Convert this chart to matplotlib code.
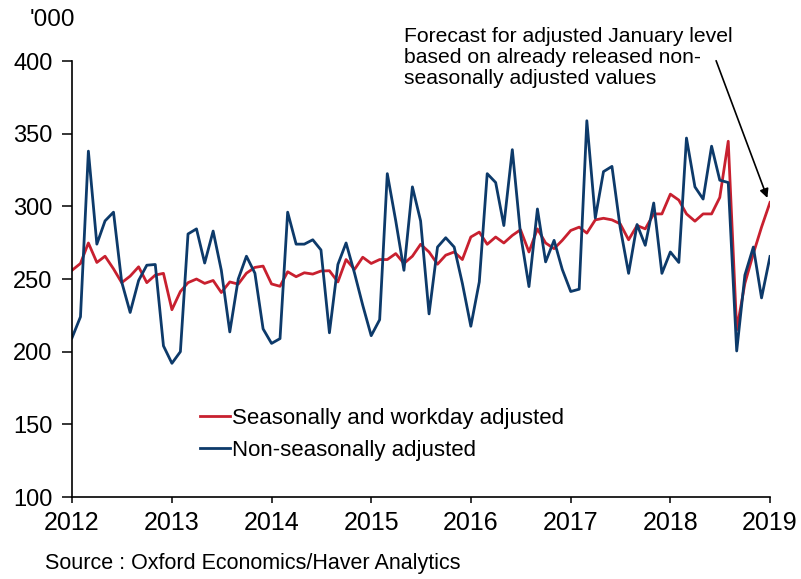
import pandas as pd
import matplotlib
matplotlib.use("Agg")
import matplotlib.pyplot as plt
import matplotlib.dates as mdates

plt.rcParams['font.family'] = ['Liberation Sans', 'DejaVu Sans']

# monthly, Jan 2012 .. Jan 2019 ('000)
months = pd.date_range("2012-01-01", periods=85, freq="MS")

adjusted = [
    256, 260.7, 274.8, 261.4, 265.7, 257, 247.5, 252, 258.4, 247.5, 252.7, 253.9,
    228.9, 241.4, 247.5, 250, 247, 249, 240.7, 248, 246.5, 254, 258, 258.9,
    246.6, 245, 255, 251.6, 254.3, 253.4, 255.5, 255.7, 248, 263.4, 256.6, 265,
    260.7, 263.4, 263.4, 267.5, 260.7, 265.7, 273.9, 268.6, 260.2, 266.4, 268.6, 263.4,
    278.9, 282.3, 273.9, 278.9, 274.8, 280, 283.9, 268.6, 284.5, 274.8, 270.9, 276.6,
    283.4, 285.7, 281.6, 290.7, 291.8, 290.7, 288, 277, 286.8, 284.5, 294.8, 294.8,
    308.4, 304.3, 294.8, 289.8, 294.8, 294.8, 306.1, 344.8, 215, 247, 267.5, 285.7,
    302.7,
]

unadjusted = [
    209.5, 224, 338, 274, 290, 296, 248, 227, 249, 259.5, 260, 204,
    192, 200, 281, 284.5, 261, 283, 256, 213.6, 250, 265.7, 254, 215.7,
    205.7, 209, 296, 274, 274, 277, 270, 213, 260, 274.8, 254, 232,
    211, 222, 322.5, 290, 256, 313.4, 290, 226, 272, 278.4, 272, 247,
    217.5, 248, 322.5, 316.4, 286.8, 339, 281, 244.8, 298.2, 261.8, 276.6, 256.6,
    241.4, 243, 358.9, 292, 323.9, 327.5, 285.7, 253.9, 287.5, 273.2, 302.3, 253.9,
    268.6, 261.4, 347, 313.4, 305, 341.4, 318, 316.4, 200.5, 252.7, 272, 237,
    265.5,
]

RED = "#c8202f"
BLUE = "#0d3a6a"

fig = plt.figure(figsize=(8.01, 5.79), dpi=100)
ax = fig.add_axes([0.0899, 0.1416, 0.8714, 0.753])

ax.plot(months, adjusted, color=RED, lw=2.0, label="Seasonally and workday adjusted")
ax.plot(months, unadjusted, color=BLUE, lw=2.0, label="Non-seasonally adjusted")

ax.set_xlim(pd.Timestamp("2012-01-01"), pd.Timestamp("2019-01-01"))
ax.set_ylim(100, 400)
ax.set_yticks(range(100, 401, 50))
ax.xaxis.set_major_locator(mdates.YearLocator())
ax.xaxis.set_major_formatter(mdates.DateFormatter("%Y"))

for s in ("top", "right"):
    ax.spines[s].set_visible(False)
for s in ("left", "bottom"):
    ax.spines[s].set_linewidth(1.2)
ax.tick_params(axis="y", direction="out", length=7, width=1.1, labelsize=17, pad=7)
ax.tick_params(axis="x", direction="out", length=4, width=1.1, labelsize=18, pad=6)

ax.text(30 / 801, 1 - 20 / 579, "'000", transform=fig.transFigure, fontsize=17.5,
        ha="left", va="center")

ax.legend(loc="lower left", bbox_to_anchor=(0.17, 0.062), frameon=False, fontsize=16,
          handlelength=1.35, handletextpad=0.12, labelspacing=0.5, borderaxespad=0)

ax.annotate("", xy=(pd.Timestamp("2018-12-26"), 304), xytext=(pd.Timestamp("2018-06-14"), 402),
            arrowprops=dict(arrowstyle="-|>", color="black", lw=1.2, mutation_scale=13),
            annotation_clip=False)
fig.text(404 / 801, 1 - 27 / 579,
         "Forecast for adjusted January level\nbased on already released non-\nseasonally adjusted values",
         fontsize=15.2, ha="left", va="top", linespacing=1.12)

fig.text(45 / 801, 1 - 563 / 579, "Source : Oxford Economics/Haver Analytics",
         fontsize=15.5, ha="left", va="center")

fig.savefig("out.png", dpi=100)
